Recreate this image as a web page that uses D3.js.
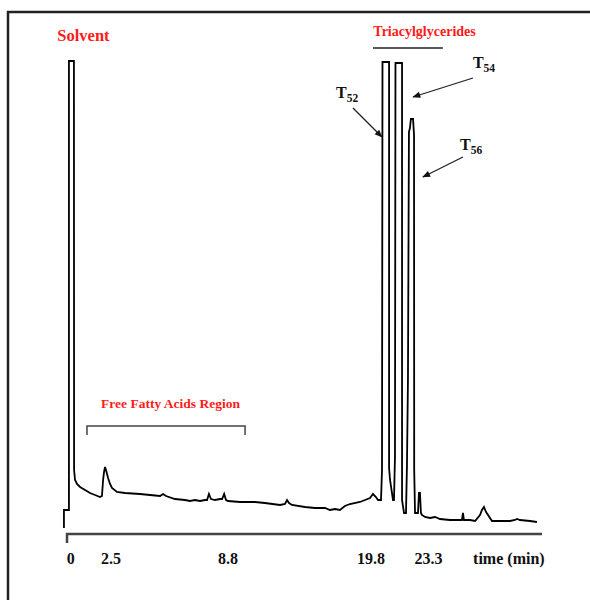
<!DOCTYPE html>
<html>
<head>
<meta charset="utf-8">
<script src="https://cdn.jsdelivr.net/npm/d3@7/dist/d3.min.js"></script>
<style>
  body { margin: 0; background: #fff; }
  text { font-family: "Liberation Serif", "Times New Roman", serif; font-weight: bold; }
</style>
</head>
<body>
<div id="chart"></div>
<script>
// Chromatogram trace: retention time (min) and detector signal (% of full scale)
const timeMin = [
  -0.39, -0.39, -0.08, -0.08, 0.23, 0.24, 0.30, 0.42, 0.61, 0.92,
  1.23, 1.54, 1.85, 1.97, 2.04, 2.10, 2.16, 2.22, 2.35, 2.47,
  2.58, 2.85, 3.28, 4.09, 4.63, 5.17, 5.33, 5.49, 5.97, 6.51,
  6.78, 7.05, 7.32, 7.59, 7.70, 7.80, 7.91, 8.13, 8.40, 8.51,
  8.62, 8.72, 8.84, 9.76, 10.92, 11.68, 12.84, 13.22, 13.38, 13.53,
  13.76, 14.76, 15.53, 16.30, 16.68, 17.07, 17.45, 17.83, 18.22, 18.99,
  19.38, 19.76, 19.95, 20.13, 20.26, 20.44, 20.50, 20.53, 20.93, 20.93,
  20.99, 21.17, 21.23, 21.29, 21.32, 21.72, 21.72, 21.84, 21.96, 22.02,
  22.08, 22.14, 22.20, 22.26, 22.39, 22.45, 22.46, 22.51, 22.69, 22.75,
  22.81, 22.87, 22.93, 23.12, 23.42, 23.73, 24.03, 24.64, 25.25, 25.37,
  25.43, 25.49, 25.86, 26.17, 26.47, 26.59, 26.71, 26.84, 26.96, 27.20,
  27.69, 28.30, 28.60, 28.73, 28.91, 29.52, 29.94
];
const signal = [
  0.4, 4.0, 4.0, 93.8, 93.8, 12.0, 10.0, 9.2, 8.6, 8.0,
  7.4, 7.0, 6.6, 6.8, 10.0, 11.6, 12.6, 12.0, 10.4, 9.2,
  8.4, 7.6, 7.4, 7.2, 7.0, 6.8, 7.2, 6.8, 6.2, 6.0,
  5.8, 6.0, 5.8, 6.0, 6.0, 7.2, 6.2, 6.0, 6.2, 6.2,
  7.2, 6.0, 5.8, 5.6, 5.6, 5.4, 5.0, 5.2, 6.0, 5.4,
  5.0, 4.6, 4.4, 4.4, 4.0, 4.2, 4.0, 4.8, 5.2, 5.6,
  6.0, 6.4, 7.2, 6.6, 6.0, 6.0, 12.0, 93.6, 93.6, 12.4,
  10.0, 6.0, 6.0, 14.6, 93.4, 93.4, 6.0, 3.4, 3.4, 13.0,
  30.0, 79.6, 80.4, 82.2, 82.2, 79.0, 12.0, 3.4, 3.4, 7.4,
  7.4, 3.4, 3.0, 2.6, 2.4, 2.6, 2.2, 2.0, 2.0, 2.0,
  3.4, 2.0, 2.0, 1.8, 3.0, 4.0, 4.6, 3.6, 3.0, 1.8,
  1.8, 1.8, 2.0, 2.2, 2.0, 1.8, 1.6
];

// Axis tick labels (min)
const tickLabels = [0, 2.5, 8.8, 19.8, 23.3];

// Peak annotations (T52, T54, T56): label anchor and arrow in data units
const peakNames = ["52", "54", "56"];
const peakLabelTime = [17.15, 26.04, 25.25];
const peakLabelSignal = [86.4, 92.4, 76.0];
const arrowFromTime = [18.45, 26.04, 25.43];
const arrowFromSignal = [84.4, 90.4, 74.6];
const arrowToTime = [20.50, 22.39, 22.99];
const arrowToSignal = [78.6, 86.6, 70.6];

// Region annotations
const ffaRange = [1.04, 10.15];      // bracket under "Free Fatty Acids Region"
const ffaLevel = 20.8;
const tagRange = [19.95, 24.21];     // line under "Triacylglycerides"
const tagLevel = 96.4;

const width = 590, height = 600;

const svg = d3.select("#chart")
  .append("svg")
  .attr("width", width)
  .attr("height", height);

svg.append("defs").append("marker")
  .attr("id", "arrow")
  .attr("viewBox", "0 0 10 10")
  .attr("refX", 9).attr("refY", 5)
  .attr("markerWidth", 9).attr("markerHeight", 8)
  .attr("markerUnits", "userSpaceOnUse")
  .attr("orient", "auto")
  .append("path")
  .attr("d", "M0,1L10,5L0,9Z")
  .attr("fill", "#111");

// outer frame (runs off the right and bottom edges)
svg.append("rect")
  .attr("x", 8).attr("y", 12)
  .attr("width", 640).attr("height", 640)
  .attr("fill", "none")
  .attr("stroke", "#222")
  .attr("stroke-width", 2.5);

// hand-spaced time axis, so a piecewise linear scale
const x = d3.scaleLinear()
  .domain([-0.2, 2.5, 8.8, 19.8, 23.3, 30.25])
  .range([67, 110.5, 227.5, 370.5, 428, 542]);
const y = d3.scaleLinear()
  .domain([0, 94])
  .range([530, 60]);
const axisY = 534;

const xAxis = d3.axisBottom(x)
  .tickValues(tickLabels)
  .tickSize(0)
  .tickFormat(d => d);

const gx = svg.append("g")
  .attr("transform", `translate(0,${axisY})`)
  .call(xAxis)
  .call(g => g.select(".domain")
    .attr("d", `M${x.range()[0]},9V0H${x.range()[x.range().length - 1]}`)
    .attr("stroke", "#444")
    .attr("stroke-width", 2.5))
  .call(g => g.selectAll(".tick text")
    .attr("y", 30).attr("dy", 0)
    .attr("fill", "#111")
    .style("font-size", "16px")
    .style("font-family", "'Liberation Serif', 'Times New Roman', serif")
    .style("font-weight", "bold"));

gx.append("text")
  .attr("x", x(26.05)).attr("y", 30)
  .attr("text-anchor", "start")
  .attr("fill", "#111")
  .style("font-size", "16px")
  .style("font-family", "'Liberation Serif', 'Times New Roman', serif")
  .style("font-weight", "bold")
  .text("time (min)");

// trace
const line = d3.line()
  .x(d => x(d[0]))
  .y(d => y(d[1]));

svg.append("path")
  .datum(d3.zip(timeMin, signal))
  .attr("d", line)
  .attr("fill", "none")
  .attr("stroke", "#000")
  .attr("stroke-width", 1.8);

// red region labels
svg.append("text")
  .attr("x", x(0.82)).attr("y", y(97.8))
  .attr("text-anchor", "middle")
  .attr("fill", "#ff1a1a")
  .style("font-size", "16.5px")
  .text("Solvent");

svg.append("text")
  .attr("x", x(23.09)).attr("y", y(98.8))
  .attr("text-anchor", "middle")
  .attr("fill", "#ff1a1a")
  .style("font-size", "14px")
  .text("Triacylglycerides");

svg.append("line")
  .attr("x1", x(tagRange[0])).attr("x2", x(tagRange[1]))
  .attr("y1", y(tagLevel)).attr("y2", y(tagLevel))
  .attr("stroke", "#222")
  .attr("stroke-width", 1.3);

svg.append("text")
  .attr("x", x(5.73)).attr("y", y(24.4))
  .attr("text-anchor", "middle")
  .attr("fill", "#ff1a1a")
  .style("font-size", "13.5px")
  .text("Free Fatty Acids Region");

svg.append("path")
  .attr("d", `M${x(ffaRange[0])},${y(ffaLevel) + 9}V${y(ffaLevel)}H${x(ffaRange[1])}V${y(ffaLevel) + 9}`)
  .attr("fill", "none")
  .attr("stroke", "#444")
  .attr("stroke-width", 1.5);

// peak labels with arrows
const peaks = peakNames.map((name, i) => ({
  name,
  lx: peakLabelTime[i], ly: peakLabelSignal[i],
  x1: arrowFromTime[i], y1: arrowFromSignal[i],
  x2: arrowToTime[i], y2: arrowToSignal[i]
}));

svg.append("g")
  .selectAll("line")
  .data(peaks)
  .join("line")
  .attr("x1", d => x(d.x1)).attr("y1", d => y(d.y1))
  .attr("x2", d => x(d.x2)).attr("y2", d => y(d.y2))
  .attr("stroke", "#222")
  .attr("stroke-width", 1.3)
  .attr("marker-end", "url(#arrow)");

const labels = svg.append("g")
  .selectAll("text")
  .data(peaks)
  .join("text")
  .attr("x", d => x(d.lx)).attr("y", d => y(d.ly))
  .attr("fill", "#111")
  .style("font-size", "16px");

labels.append("tspan").text("T");
labels.append("tspan")
  .attr("dy", 4)
  .style("font-size", "11.5px")
  .text(d => d.name);
</script>
</body>
</html>
